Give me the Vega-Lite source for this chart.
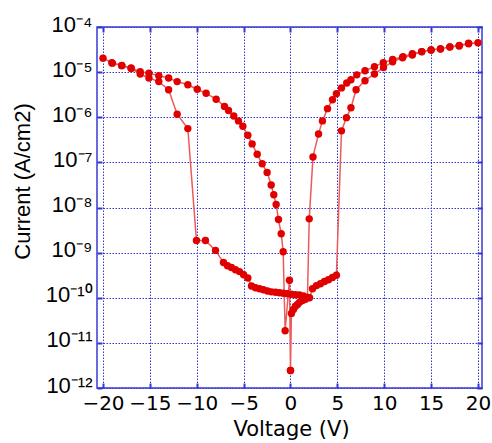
{
  "$schema": "https://vega.github.io/schema/vega-lite/v6.json",
  "autosize": {"type": "none"},
  "padding": {"left": 97, "top": 27, "right": 10, "bottom": 55},
  "width": 385,
  "height": 361,
  "background": "white",
  "config": {"view": {"stroke": "#3a3ad6", "strokeWidth": 1.5}},
  "data": {"values": [
    {"o": 0, "v": 0, "i": 2.45e-12},
    {"o": 1, "v": 0.1, "i": 4.5e-11},
    {"o": 2, "v": 0.32, "i": 5.5e-11},
    {"o": 3, "v": 0.53, "i": 6.5e-11},
    {"o": 4, "v": 0.75, "i": 7.1e-11},
    {"o": 5, "v": 0.96, "i": 7.9e-11},
    {"o": 6, "v": 1.28, "i": 8.7e-11},
    {"o": 7, "v": 1.6, "i": 9.3e-11},
    {"o": 8, "v": 2.03, "i": 1.0e-10},
    {"o": 9, "v": 2.35, "i": 1.58e-10},
    {"o": 10, "v": 2.77, "i": 1.86e-10},
    {"o": 11, "v": 3.2, "i": 2.04e-10},
    {"o": 12, "v": 3.63, "i": 2.29e-10},
    {"o": 13, "v": 4.05, "i": 2.51e-10},
    {"o": 14, "v": 4.48, "i": 2.82e-10},
    {"o": 15, "v": 4.9, "i": 3.16e-10},
    {"o": 16, "v": 5.44, "i": 5.0e-7},
    {"o": 17, "v": 5.97, "i": 9.8e-7},
    {"o": 18, "v": 6.45, "i": 1.62e-6},
    {"o": 19, "v": 7.0, "i": 4.07e-6},
    {"o": 20, "v": 7.95, "i": 6.46e-6},
    {"o": 21, "v": 8.96, "i": 9.1e-6},
    {"o": 22, "v": 9.92, "i": 1.26e-5},
    {"o": 23, "v": 10.9, "i": 1.7e-5},
    {"o": 24, "v": 11.95, "i": 2.09e-5},
    {"o": 25, "v": 13, "i": 2.4e-5},
    {"o": 26, "v": 14, "i": 2.82e-5},
    {"o": 27, "v": 15, "i": 3.09e-5},
    {"o": 28, "v": 16, "i": 3.24e-5},
    {"o": 29, "v": 17, "i": 3.63e-5},
    {"o": 30, "v": 18, "i": 3.8e-5},
    {"o": 31, "v": 19, "i": 4.27e-5},
    {"o": 32, "v": 20, "i": 4.47e-5},
    {"o": 33, "v": 19, "i": 4.37e-5},
    {"o": 34, "v": 18, "i": 3.9e-5},
    {"o": 35, "v": 17, "i": 3.6e-5},
    {"o": 36, "v": 16, "i": 3.3e-5},
    {"o": 37, "v": 15, "i": 3.1e-5},
    {"o": 38, "v": 14, "i": 2.85e-5},
    {"o": 39, "v": 13, "i": 2.55e-5},
    {"o": 40, "v": 12, "i": 2.2e-5},
    {"o": 41, "v": 10.9, "i": 1.9e-5},
    {"o": 42, "v": 9.9, "i": 1.62e-5},
    {"o": 43, "v": 8.96, "i": 1.32e-5},
    {"o": 44, "v": 7.95, "i": 1.07e-5},
    {"o": 45, "v": 7.07, "i": 8.7e-6},
    {"o": 46, "v": 6.45, "i": 6.76e-6},
    {"o": 47, "v": 6.0, "i": 5.75e-6},
    {"o": 48, "v": 5.44, "i": 4.47e-6},
    {"o": 49, "v": 4.9, "i": 3.31e-6},
    {"o": 50, "v": 4.48, "i": 2.45e-6},
    {"o": 51, "v": 3.95, "i": 1.55e-6},
    {"o": 52, "v": 3.41, "i": 8.3e-7},
    {"o": 53, "v": 2.99, "i": 4.27e-7},
    {"o": 54, "v": 2.4, "i": 1.32e-7},
    {"o": 55, "v": 2.0, "i": 5.6e-9},
    {"o": 56, "v": 1.81, "i": 1.02e-10},
    {"o": 57, "v": 1.39, "i": 1.10e-10},
    {"o": 58, "v": 0.96, "i": 1.15e-10},
    {"o": 59, "v": 0.53, "i": 1.17e-10},
    {"o": 60, "v": 0.1, "i": 1.2e-10},
    {"o": 61, "v": -0.32, "i": 1.23e-10},
    {"o": 62, "v": -0.75, "i": 1.26e-10},
    {"o": 63, "v": -1.17, "i": 1.29e-10},
    {"o": 64, "v": -1.6, "i": 1.32e-10},
    {"o": 65, "v": -2.03, "i": 1.35e-10},
    {"o": 66, "v": -2.45, "i": 1.41e-10},
    {"o": 67, "v": -2.88, "i": 1.51e-10},
    {"o": 68, "v": -3.3, "i": 1.58e-10},
    {"o": 69, "v": -3.73, "i": 1.66e-10},
    {"o": 70, "v": -4.16, "i": 1.82e-10},
    {"o": 71, "v": -4.55, "i": 2.75e-10},
    {"o": 72, "v": -5.0, "i": 3.24e-10},
    {"o": 73, "v": -5.44, "i": 3.8e-10},
    {"o": 74, "v": -5.87, "i": 4.17e-10},
    {"o": 75, "v": -6.3, "i": 4.68e-10},
    {"o": 76, "v": -6.72, "i": 5.13e-10},
    {"o": 77, "v": -7.15, "i": 6.03e-10},
    {"o": 78, "v": -8.0, "i": 1.12e-9},
    {"o": 79, "v": -9.07, "i": 1.86e-9},
    {"o": 80, "v": -10.03, "i": 1.86e-9},
    {"o": 81, "v": -10.95, "i": 5.6e-7},
    {"o": 82, "v": -12.09, "i": 1.17e-6},
    {"o": 83, "v": -13.0, "i": 4.07e-6},
    {"o": 84, "v": -14.05, "i": 6.17e-6},
    {"o": 85, "v": -15.1, "i": 7.4e-6},
    {"o": 86, "v": -16.03, "i": 9.1e-6},
    {"o": 87, "v": -17, "i": 1.2e-5},
    {"o": 88, "v": -18, "i": 1.38e-5},
    {"o": 89, "v": -19, "i": 1.58e-5},
    {"o": 90, "v": -20, "i": 2.04e-5},
    {"o": 91, "v": -19.06, "i": 1.62e-5},
    {"o": 92, "v": -18, "i": 1.41e-5},
    {"o": 93, "v": -17, "i": 1.23e-5},
    {"o": 94, "v": -16.03, "i": 1.02e-5},
    {"o": 95, "v": -15.1, "i": 9.5e-6},
    {"o": 96, "v": -14.05, "i": 8.3e-6},
    {"o": 97, "v": -13.0, "i": 7.4e-6},
    {"o": 98, "v": -12.09, "i": 6.17e-6},
    {"o": 99, "v": -10.95, "i": 5.25e-6},
    {"o": 100, "v": -9.95, "i": 4.17e-6},
    {"o": 101, "v": -9.0, "i": 3.39e-6},
    {"o": 102, "v": -7.93, "i": 2.51e-6},
    {"o": 103, "v": -7.04, "i": 1.74e-6},
    {"o": 104, "v": -6.61, "i": 1.41e-6},
    {"o": 105, "v": -6.05, "i": 1.07e-6},
    {"o": 106, "v": -5.55, "i": 8.3e-7},
    {"o": 107, "v": -5.08, "i": 6.3e-7},
    {"o": 108, "v": -4.55, "i": 3.98e-7},
    {"o": 109, "v": -4.09, "i": 2.57e-7},
    {"o": 110, "v": -3.55, "i": 1.51e-7},
    {"o": 111, "v": -3.02, "i": 9.3e-8},
    {"o": 112, "v": -2.49, "i": 6.0e-8},
    {"o": 113, "v": -2.06, "i": 3.16e-8},
    {"o": 114, "v": -1.78, "i": 1.91e-8},
    {"o": 115, "v": -1.53, "i": 1.17e-8},
    {"o": 116, "v": -1.28, "i": 5.4e-9},
    {"o": 117, "v": -0.99, "i": 2.63e-9},
    {"o": 118, "v": -0.78, "i": 1.05e-9},
    {"o": 119, "v": -0.57, "i": 1.86e-11},
    {"o": 120, "v": -0.11, "i": 2.45e-10},
    {"o": 121, "v": 0, "i": 2.45e-12}
  ]},
  "layer": [
    {
      "mark": {"type": "line", "color": "#ee5a5a", "strokeWidth": 1.5},
      "encoding": {
        "order": {"field": "o", "type": "quantitative"},
        "x": {
          "field": "v", "type": "quantitative",
          "scale": {"domain": [-20.64, 20.43], "nice": false, "zero": false},
          "axis": {
            "values": [-20, -15, -10, -5, 0, 5, 10, 15, 20],
            "grid": true, "gridColor": "#3535d5", "gridDash": [1.5, 1.5], "gridWidth": 1, "gridOpacity": 1,
            "domain": false, "ticks": true, "tickSize": -5, "tickColor": "#3535d5", "tickWidth": 2,
            "labelFlush": false, "labelFont": "DejaVu Sans", "labelFontSize": 20, "labelColor": "black", "labelPadding": 10,
            "title": "Voltage (V)", "titleFont": "DejaVu Sans", "titleFontSize": 21, "titleFontWeight": "normal", "titleColor": "black",
            "titleBaseline": "alphabetic", "titleX": 194, "titleY": 47
          }
        },
        "y": {
          "field": "i", "type": "quantitative",
          "scale": {"type": "log", "domain": [1e-12, 1e-4], "nice": false},
          "axis": {
            "values": [1e-12, 1e-11, 1e-10, 1e-9, 1e-8, 1e-7, 1e-6, 1e-5, 1e-4],
            "labelExpr": "'10' + ['⁻¹²','⁻¹¹','⁻¹⁰','⁻⁹','⁻⁸','⁻⁷','⁻⁶','⁻⁵','⁻⁴'][round(log(datum.value)/LN10)+12]",
            "grid": true, "gridColor": "#3535d5", "gridDash": [1.5, 1.5], "gridWidth": 1, "gridOpacity": 1,
            "domain": false, "ticks": true, "tickSize": -5, "tickColor": "#3535d5", "tickWidth": 2,
            "labelFlush": false, "labelFont": "Liberation Sans", "labelFontSize": 22, "labelColor": "black", "labelPadding": 10, "labelOffset": -3,
            "title": "Current (A/cm2)", "titleFont": "Liberation Sans", "titleFontSize": 22, "titleFontWeight": "normal", "titleColor": "black",
            "titleAngle": -90, "titleBaseline": "middle", "titleAlign": "center", "titleX": -75, "titleY": 154
          }
        }
      }
    },
    {
      "mark": {"type": "point", "filled": true, "shape": "circle", "size": 55, "color": "#e00000", "opacity": 1},
      "encoding": {
        "x": {
          "field": "v", "type": "quantitative",
          "scale": {"domain": [-20.64, 20.43], "nice": false, "zero": false},
          "axis": {"orient": "top", "values": [-20, -15, -10, -5, 0, 5, 10, 15, 20], "labels": false, "title": null, "grid": false, "domain": false, "ticks": true, "tickSize": -5, "tickColor": "#3535d5", "tickWidth": 2}
        },
        "y": {
          "field": "i", "type": "quantitative",
          "scale": {"type": "log", "domain": [1e-12, 1e-4], "nice": false},
          "axis": {"orient": "right", "values": [1e-12, 1e-11, 1e-10, 1e-9, 1e-8, 1e-7, 1e-6, 1e-5, 1e-4], "labels": false, "title": null, "grid": false, "domain": false, "ticks": true, "tickSize": -5, "tickColor": "#3535d5", "tickWidth": 2}
        }
      }
    }
  ],
  "resolve": {"axis": {"x": "independent", "y": "independent"}}
}
